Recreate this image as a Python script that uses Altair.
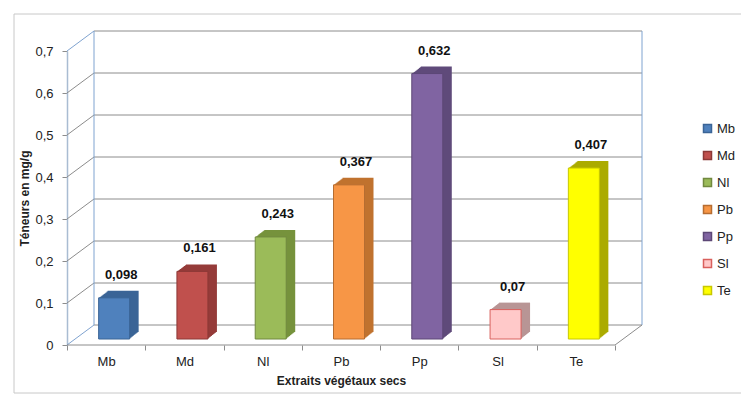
import altair as alt
import pandas as pd

categories = ["Mb", "Md", "Nl", "Pb", "Pp", "Sl", "Te"]
values = [0.098, 0.161, 0.243, 0.367, 0.632, 0.07, 0.407]
y_ticks = [0, 0.1, 0.2, 0.3, 0.4, 0.5, 0.6, 0.7]

front_colors = ["#4F81BD", "#C0504D", "#9BBB59", "#F79646", "#8064A2", "#FFC9C9", "#FFFF00"]
side_colors = ["#3A6496", "#953B39", "#76923C", "#C0722E", "#5F4A7A", "#B89595", "#ABAB00"]
edge_colors = ["#3A6496", "#8C3836", "#71893F", "#B66D31", "#5C4776", "#D9605D", "#C8C800"]

df = pd.DataFrame({"cat": categories, "val": values})
df["lab"] = [str(v).replace(".", ",") for v in values]
ticks = pd.DataFrame({"t": y_ticks})

W, H = 548, 294
DX, DY = 27, -20  # depth of the 3D box
FONT = "Liberation Sans"

xs = alt.Scale(domain=categories, paddingInner=0, paddingOuter=0)
ys = alt.Scale(domain=[0, 0.7], nice=False, zero=True)

x_enc = alt.X("cat:N", scale=xs, sort=categories,
              axis=alt.Axis(title="Extraits végétaux secs", labelAngle=0, domain=False,
                            tickBand="extent", tickColor="#8c8c8c", tickSize=5,
                            labelPadding=5, labelFont=FONT, labelFontSize=13,
                            labelColor="#222", titleFont=FONT, titleFontSize=12,
                            titleFontWeight="bold", titleColor="#222", titlePadding=7))

base = alt.Chart(ticks)

# back wall grid
grid = base.mark_rule(color="#8c8c8c", strokeWidth=1, yOffset=DY).encode(
    y=alt.Y("t:Q", scale=ys,
            axis=alt.Axis(title="Téneurs en mg/g", values=y_ticks,
                          labelExpr="datum.value == 0 ? '0' : replace(format(datum.value, '.1f'), '.', ',')",
                          domainColor="#a9bcd2", domainWidth=1.5, tickColor="#8c8c8c", tickSize=5,
                          labelPadding=9, labelFont=FONT, labelFontSize=13, labelColor="#222",
                          titleFont=FONT, titleFontSize=12, titleFontWeight="bold",
                          titleColor="#222", titlePadding=3, grid=False)),
    x=alt.value(DX), x2=alt.value(W + DX),
)
# left wall diagonals
diag = base.transform_filter("datum.t > 0 && datum.t < 0.7").mark_rule(
    color="#8c8c8c", y2Offset=DY).encode(
    y=alt.Y("t:Q", scale=ys), y2="t:Q", x=alt.value(0), x2=alt.value(DX))
diag_blue = base.transform_filter("datum.t == 0 || datum.t == 0.7").mark_rule(
    color="#7FA3D0", y2Offset=DY).encode(
    y=alt.Y("t:Q", scale=ys), y2="t:Q", x=alt.value(0), x2=alt.value(DX))
# back wall vertical edges
edges = alt.Chart(pd.DataFrame({"p": [0]})).mark_rule(
    color="#7FA3D0", yOffset=DY, y2Offset=DY).encode(
    y=alt.datum(0, scale=ys), y2=alt.datum(0.7), x=alt.value(DX))
edges_r = alt.Chart(pd.DataFrame({"p": [0]})).mark_rule(
    color="#7FA3D0", yOffset=DY, y2Offset=DY).encode(
    y=alt.datum(0, scale=ys), y2=alt.datum(0.7), x=alt.value(W + DX))
# floor edges
floor_front = alt.Chart(pd.DataFrame({"p": [0]})).mark_rule(color="#8c8c8c").encode(
    y=alt.datum(0, scale=ys), x=alt.value(0), x2=alt.value(W))
floor_right = alt.Chart(pd.DataFrame({"p": [0]})).mark_rule(color="#8c8c8c", y2Offset=DY).encode(
    y=alt.datum(0, scale=ys), y2=alt.datum(0), x=alt.value(W), x2=alt.value(W + DX))

# 3D extrusion of bars
bars = alt.Chart(df)
extrude = []
steps = 9
for k in range(1, steps + 1):
    extrude.append(
        bars.mark_bar(width=31, xOffset=8 + k, yOffset=-6 - 7 * k / steps,
                      y2Offset=-6 - 7 * k / steps).encode(
            x=x_enc,
            y=alt.Y("val:Q", scale=ys),
            color=alt.Color("cat:N", scale=alt.Scale(domain=categories, range=side_colors), legend=None),
        )
    )

front = bars.mark_bar(width=31, xOffset=8, yOffset=-6, y2Offset=-6, strokeWidth=1).encode(
    x=x_enc,
    y=alt.Y("val:Q", scale=ys),
    color=alt.Color("cat:N", scale=alt.Scale(domain=categories, range=front_colors),
                    legend=alt.Legend(
                        title=None, orient="none", legendX=634, legendY=71,
                        symbolType="square", symbolSize=64,
                        symbolStrokeColor=alt.ExprRef(expr="scale('stroke', datum.value)"),
                        symbolStrokeWidth=1.5,
                        labelFont=FONT, labelFontSize=13, labelColor="#222",
                        rowPadding=12, labelOffset=3, padding=0)),
    stroke=alt.Stroke("cat:N", scale=alt.Scale(domain=categories, range=edge_colors), legend=None),
)

labels = bars.mark_text(font=FONT, fontSize=13, fontWeight="bold", color="#111",
                        xOffset=15, yOffset=-29, baseline="middle").encode(
    x=x_enc, y=alt.Y("val:Q", scale=ys), text="lab:N")

# outer frame (chart border)
frame_top = alt.Chart(pd.DataFrame({"p": [0]})).mark_rule(color="#c8c8c8").encode(
    x=alt.value(-53), x2=alt.value(741), y=alt.value(-37))
frame_left = alt.Chart(pd.DataFrame({"p": [0]})).mark_rule(color="#c8c8c8").encode(
    x=alt.value(-53), y=alt.value(-37), y2=alt.value(H + 48))
frame_bottom = alt.Chart(pd.DataFrame({"p": [0]})).mark_rule(color="#c8c8c8").encode(
    x=alt.value(-53), x2=alt.value(741), y=alt.value(H + 48))

chart = alt.layer(
    frame_top, frame_left, frame_bottom,
    grid, diag, diag_blue, edges, edges_r, floor_front, floor_right,
    *extrude, front, labels,
).resolve_scale(color="independent").properties(
    width=W, height=H,
    padding={"left": 67, "top": 51, "right": 741 - 67 - W, "bottom": 396 - 51 - H},
    autosize=alt.AutoSizeParams(type="none"),
    background="white",
).configure_view(stroke=None)

chart.save("out.html", embed_options={"renderer": "svg", "actions": False})
